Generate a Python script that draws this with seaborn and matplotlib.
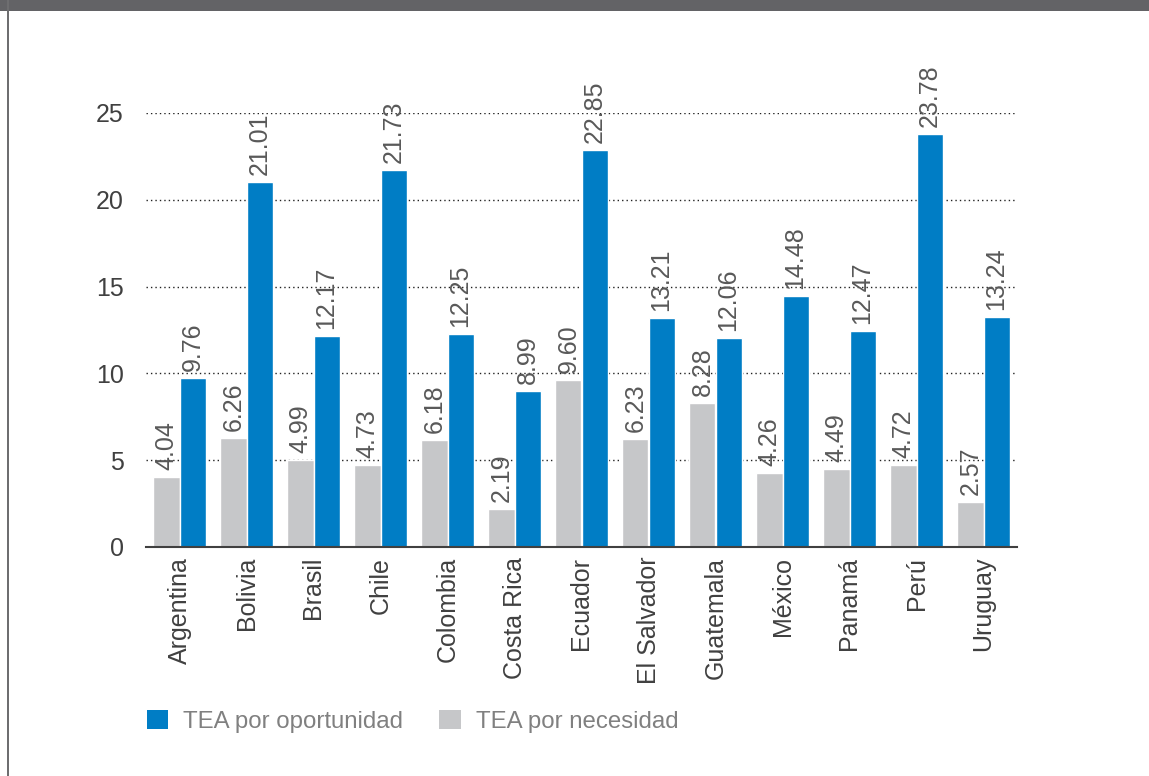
import matplotlib
matplotlib.use("Agg")
import matplotlib.pyplot as plt
from matplotlib.patches import Rectangle, Patch
import pandas as pd
import seaborn as sns

paises = ["Argentina", "Bolivia", "Brasil", "Chile", "Colombia", "Costa Rica",
          "Ecuador", "El Salvador", "Guatemala", "México", "Panamá", "Perú", "Uruguay"]
tea_necesidad = [4.04, 6.26, 4.99, 4.73, 6.18, 2.19, 9.60, 6.23, 8.28, 4.26, 4.49, 4.72, 2.57]
tea_oportunidad = [9.76, 21.01, 12.17, 21.73, 12.25, 8.99, 22.85, 13.21, 12.06, 14.48, 12.47, 23.78, 13.24]
serie_nec = "TEA por necesidad"
serie_opo = "TEA por oportunidad"
y_ticks = [0, 5, 10, 15, 20, 25]

AZUL = "#007DC5"
GRIS = "#C6C7C9"

df = pd.concat([
    pd.DataFrame({"pais": paises, "serie": serie_nec, "valor": tea_necesidad}),
    pd.DataFrame({"pais": paises, "serie": serie_opo, "valor": tea_oportunidad}),
])

sns.set_theme(style="white")
plt.rcParams["font.family"] = ["Liberation Sans", "DejaVu Sans"]

fig = plt.figure(figsize=(11.49, 7.76), dpi=100)
ax = fig.add_axes([146 / 1149, 1 - 547 / 776, (1017 - 146) / 1149, (547 - 113) / 776])

sns.barplot(data=df, x="pais", y="valor", hue="serie", order=paises,
            hue_order=[serie_nec, serie_opo], palette=[GRIS, AZUL],
            width=0.78, edgecolor="white", linewidth=1.0, saturation=1,
            legend=False, ax=ax)

ax.set_ylim(0, 25)
ax.set_xlim(-0.5, len(paises) - 0.5)
ax.set_yticks(y_ticks)
for v in y_ticks[1:]:
    ax.axhline(v, color="#222222", linestyle=(0, (1, 2.2)), linewidth=1.0, zorder=0)

for cont in ax.containers:
    for rect in cont:
        h = rect.get_height()
        ax.annotate(f"{h:.2f}", (rect.get_x() + rect.get_width() / 2, h),
                    xytext=(0, 5), textcoords="offset points",
                    rotation=90, ha="center", va="bottom",
                    fontsize=18, color="#595959", annotation_clip=False)

for s in ["top", "right", "left"]:
    ax.spines[s].set_visible(False)
ax.spines["bottom"].set_color("#404040")
ax.spines["bottom"].set_linewidth(1.5)
ax.tick_params(axis="y", length=0, pad=16, labelsize=18, labelcolor="#404040")
ax.tick_params(axis="x", length=0, pad=7, labelsize=18, labelcolor="#404040",
               labelrotation=90)
ax.set_xlabel("")
ax.set_ylabel("")

handles = [Patch(facecolor=AZUL, edgecolor="none", label=serie_opo),
           Patch(facecolor=GRIS, edgecolor="none", label=serie_nec)]
fig.legend(handles=handles, loc="upper left", bbox_to_anchor=(125 / 1149, 1 - 688 / 776),
           ncol=2, frameon=False, fontsize=17.3, labelcolor="#808080",
           handlelength=0.88, handleheight=0.88, handletextpad=0.65, columnspacing=1.5)

# header band and left frame line
fig.patches.append(Rectangle((0, 1 - 11 / 776), 1, 11 / 776, transform=fig.transFigure,
                             facecolor="#636366", edgecolor="none", zorder=5))
fig.patches.append(Rectangle((7 / 1149, 0), 2 / 1149, 1, transform=fig.transFigure,
                             facecolor="#6E6E70", edgecolor="none", zorder=5))

fig.savefig("out.png", dpi=100, facecolor="white")
